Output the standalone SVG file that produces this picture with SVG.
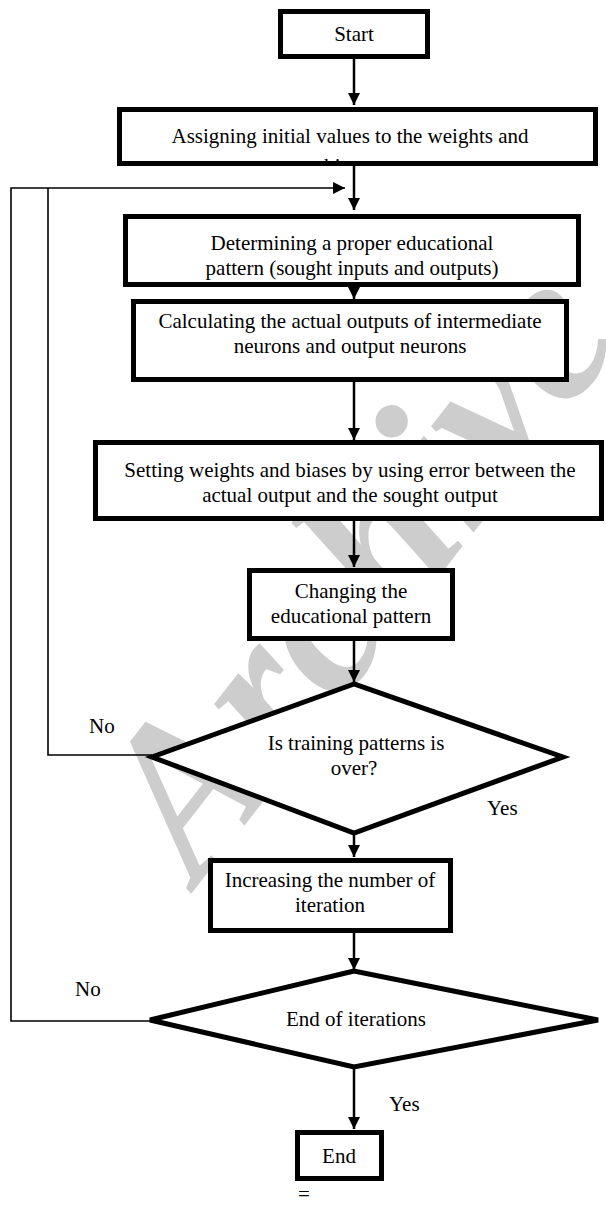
<svg xmlns="http://www.w3.org/2000/svg" width="606" height="1207" viewBox="0 0 606 1207">
<defs>
<style>
.box{fill:#fff;stroke:#000;stroke-width:5}
.dia{fill:#fff;stroke:#000;stroke-width:5;stroke-linejoin:miter}
.t{font-size:21px;fill:#000;text-anchor:middle}
.lbl{font-size:21px;fill:#000}
.c{stroke:#000;stroke-width:2.5;fill:none}
.fb{stroke:#000;stroke-width:1.6;fill:none}
.wm{font-size:215px;font-style:italic;font-weight:bold;fill:#cdcdcd}
</style>
<marker id="ah" viewBox="0 0 10 10" refX="10" refY="5" markerWidth="12" markerHeight="14" markerUnits="userSpaceOnUse" orient="auto">
<path d="M0,0 L10,5 L0,10 z" fill="#000"/>
</marker>
<clipPath id="clipA"><rect x="120" y="110" width="475" height="51"/></clipPath>
</defs>
<rect width="606" height="1207" fill="#fff"/>
<text class="wm" font-family="Liberation Serif, Times New Roman, serif" transform="translate(198,885) rotate(-52)">Archive</text>
<g font-family="Liberation Serif, Times New Roman, serif">
<g id="connectors">
<line class="c" x1="354" y1="57" x2="354" y2="105" marker-end="url(#ah)"/>
<line class="c" x1="354" y1="166" x2="354" y2="210" marker-end="url(#ah)"/>
<polyline class="fb" points="152,1021 11,1021 11,188 345,188" marker-end="url(#ah)"/>
<polyline class="fb" points="152,755 48,755 48,188"/>
<line class="c" x1="354" y1="287" x2="354" y2="299" marker-end="url(#ah)"/>
<line class="c" x1="354" y1="382" x2="354" y2="440" marker-end="url(#ah)"/>
<line class="c" x1="354" y1="521" x2="354" y2="567" marker-end="url(#ah)"/>
<line class="c" x1="354" y1="641" x2="354" y2="682" marker-end="url(#ah)"/>
<line class="c" x1="354" y1="834" x2="354" y2="857" marker-end="url(#ah)"/>
<line class="c" x1="354" y1="933" x2="354" y2="970" marker-end="url(#ah)"/>
<line class="c" x1="354" y1="1068" x2="354" y2="1129" marker-end="url(#ah)"/>
<text class="lbl" x="89" y="733">No</text>
<text class="lbl" x="75" y="996">No</text>
<text class="lbl" x="487" y="815">Yes</text>
<text class="lbl" x="389" y="1111">Yes</text>
</g>
<g id="start">
<rect class="box" x="280.5" y="11.5" width="147" height="45" stroke-width="4.5"/>
<text class="t" x="354" y="41">Start</text>
</g>
<g id="assign">
<rect class="box" x="119.5" y="109.5" width="476" height="54"/>
<text class="t" x="350" y="143">Assigning initial values to the weights and</text>
<text class="t" x="350" y="173" clip-path="url(#clipA)">biases</text>
</g>
<g id="determine">
<rect class="box" x="125.5" y="216.5" width="453" height="68"/>
<text class="t" x="352" y="250">Determining a proper educational</text>
<text class="t" x="352" y="275">pattern (sought inputs and outputs)</text>
</g>
<g id="calculate">
<rect class="box" x="133.5" y="301.5" width="433" height="78"/>
<text class="t" x="350" y="328">Calculating the actual outputs of intermediate</text>
<text class="t" x="350" y="353">neurons and output neurons</text>
</g>
<g id="setting">
<rect class="box" x="95.5" y="442.5" width="506" height="76"/>
<text class="t" x="350" y="477">Setting weights and biases by using error between the</text>
<text class="t" x="350" y="502">actual output and the sought output</text>
</g>
<g id="changing">
<rect class="box" x="249.5" y="570.5" width="203" height="68"/>
<text class="t" x="351" y="598">Changing the</text>
<text class="t" x="351" y="623">educational pattern</text>
</g>
<g id="decision1">
<polygon class="dia" points="354,684 152,757 354,833 563,757"/>
<text class="t" x="356" y="750">Is training patterns is</text>
<text class="t" x="354" y="775">over?</text>
</g>
<g id="increase">
<rect class="box" x="210.5" y="860.5" width="240" height="70"/>
<text class="t" x="330" y="887">Increasing the number of</text>
<text class="t" x="330" y="912">iteration</text>
</g>
<g id="decision2">
<polygon class="dia" points="354,971 150,1020 354,1067 598,1020"/>
<text class="t" x="356" y="1026">End of iterations</text>
</g>
<g id="end">
<rect class="box" x="297.5" y="1132.5" width="84" height="46" stroke-width="4.5"/>
<text class="t" x="339" y="1163">End</text>
</g>
<text class="lbl" x="298" y="1201" font-size="16">=</text>
</g>
</svg>
